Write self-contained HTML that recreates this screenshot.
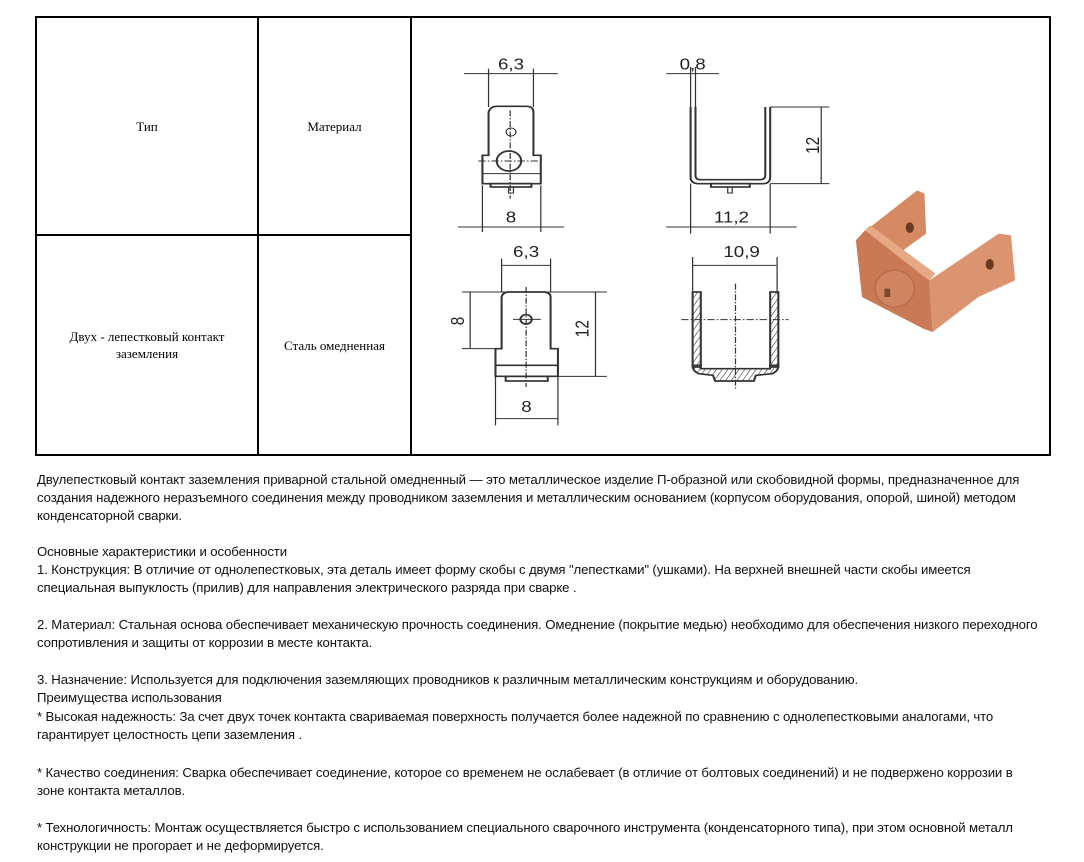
<!DOCTYPE html>
<html><head><meta charset="utf-8"><style>
body{margin:0;width:1084px;height:862px;background:#fff;position:relative;overflow:hidden}
.b{position:absolute;background:#000}
.c{position:absolute;font-family:"Liberation Serif",serif;font-size:13px;color:#000;text-align:center}
.t{position:absolute;left:37px;font-family:"Liberation Sans",sans-serif;font-size:13.2px;color:#111;white-space:nowrap;letter-spacing:-0.12px}
</style></head><body>
<div class="b" style="left:35px;top:16px;width:1016px;height:2px"></div>
<div class="b" style="left:35px;top:454px;width:1016px;height:2px"></div>
<div class="b" style="left:35px;top:16px;width:2px;height:440px"></div>
<div class="b" style="left:1049px;top:16px;width:2px;height:440px"></div>
<div class="b" style="left:257px;top:16px;width:2px;height:440px"></div>
<div class="b" style="left:410px;top:16px;width:2px;height:440px"></div>
<div class="b" style="left:35px;top:234px;width:376px;height:2px"></div>
<div class="c" style="left:37px;width:220px;top:119px">Тип</div>
<div class="c" style="left:259px;width:151px;top:119px">Материал</div>
<div class="c" style="left:37px;width:220px;top:328px;line-height:17px">Двух - лепестковый контакт<br>заземления</div>
<div class="c" style="left:259px;width:151px;top:338px">Сталь омедненная</div>
<svg style="position:absolute;left:411px;top:17px" width="640" height="440" viewBox="0 0 1568 1320" preserveAspectRatio="none">
<defs>
<pattern id="h" width="12" height="12" patternUnits="userSpaceOnUse" patternTransform="rotate(30)"><line x1="0" y1="0" x2="0" y2="12" stroke="#333" stroke-width="3"/></pattern></defs>
<g stroke="#333" stroke-width="3" fill="none">
<!-- top left -->
<line x1="130" y1="170" x2="360" y2="170"/><line x1="190" y1="155" x2="190" y2="270"/><line x1="300" y1="155" x2="300" y2="270"/>
<path d="M190,415 L190,285 Q195,268 210,268 L285,268 Q300,270 300,285 L300,415 L318,415 L318,500 L175,500 L175,415 Z" stroke-width="5"/>
<line x1="175" y1="470" x2="318" y2="470"/>
<rect x="195" y="500" width="100" height="10" stroke-width="5"/><rect x="239" y="510" width="12" height="18"/>
<circle cx="245" cy="345" r="12"/><circle cx="240" cy="432" r="30" stroke-width="5"/>
<line x1="165" y1="432" x2="325" y2="432" stroke-dasharray="18,5,4,5"/><line x1="243" y1="280" x2="243" y2="545" stroke-dasharray="18,5,4,5"/>
<line x1="115" y1="630" x2="375" y2="630"/><line x1="175" y1="505" x2="175" y2="645"/><line x1="318" y1="505" x2="318" y2="645"/>
<!-- top middle -->
<line x1="625" y1="170" x2="755" y2="170"/><line x1="685" y1="150" x2="685" y2="270"/><line x1="697" y1="150" x2="697" y2="270"/>
<path d="M685,270 L685,480 Q685,500 705,500 L862,500 Q880,500 880,480 L880,270 M697,270 L697,475 Q697,488 710,488 L855,488 Q868,488 868,475 L868,270" stroke-width="5"/>
<rect x="735" y="500" width="95" height="10" stroke-width="5"/><rect x="776" y="510" width="11" height="18"/>
<line x1="880" y1="270" x2="1025" y2="270"/><line x1="880" y1="500" x2="1025" y2="500"/><line x1="1005" y1="270" x2="1005" y2="500"/>
<line x1="685" y1="500" x2="685" y2="650"/><line x1="880" y1="500" x2="880" y2="650"/><line x1="625" y1="630" x2="945" y2="630"/>
<!-- bottom left -->
<line x1="222" y1="745" x2="342" y2="745"/><line x1="222" y1="725" x2="222" y2="825"/><line x1="342" y1="725" x2="342" y2="825"/>
<path d="M222,995 L222,840 Q225,825 240,825 L328,825 Q342,828 342,840 L342,995 L360,995 L360,1078 L207,1078 L207,995 Z" stroke-width="5"/>
<line x1="207" y1="1045" x2="360" y2="1045" stroke-width="5"/>
<rect x="232" y="1078" width="103" height="14" stroke-width="5"/>
<circle cx="282" cy="907" r="14" stroke-width="5"/><line x1="250" y1="907" x2="318" y2="907"/>
<line x1="282" y1="810" x2="282" y2="1110" stroke-dasharray="18,5,4,5"/>
<line x1="125" y1="825" x2="480" y2="825"/><line x1="125" y1="995" x2="207" y2="995"/><line x1="145" y1="825" x2="145" y2="995"/>
<line x1="360" y1="1078" x2="480" y2="1078"/><line x1="452" y1="825" x2="452" y2="1078"/>
<line x1="207" y1="1078" x2="207" y2="1225"/><line x1="360" y1="1078" x2="360" y2="1225"/><line x1="207" y1="1205" x2="360" y2="1205"/>
<!-- bottom middle -->
<line x1="690" y1="745" x2="895" y2="745"/><line x1="690" y1="720" x2="690" y2="830"/><line x1="897" y1="720" x2="897" y2="830"/>
<rect x="690" y="825" width="20" height="225" fill="url(#h)" stroke-width="5"/><rect x="880" y="825" width="20" height="225" fill="url(#h)" stroke-width="5"/>
<path d="M690,1045 Q690,1062 705,1070 L740,1075 L745,1092 L840,1092 L845,1075 L885,1070 Q900,1062 900,1045 L880,1045 L880,1055 L710,1055 L710,1045 Z" fill="url(#h)" stroke-width="5"/>
<line x1="662" y1="908" x2="925" y2="908" stroke-dasharray="18,5,4,5"/><line x1="795" y1="800" x2="795" y2="1115" stroke-dasharray="18,5,4,5"/>
</g>
<g fill="#222" font-family="Liberation Sans,sans-serif" font-size="46" text-anchor="middle">
<text x="245" y="158">6,3</text><text x="690" y="158">0,8</text><text x="245" y="617">8</text><text x="785" y="617">11,2</text>
<text x="282" y="720">6,3</text><text x="810" y="720">10,9</text><text x="283" y="1185">8</text>
<text transform="translate(1000,385) rotate(-90)">12</text><text transform="translate(130,912) rotate(-90)">8</text><text transform="translate(435,935) rotate(-90)">12</text>
</g>
<!-- photo -->
<g>
<polygon points="1115,640 1240,520 1258,530 1262,650 1200,705 1120,690" fill="#d68a63"/>
<polygon points="1090,670 1112,640 1270,790 1278,945 1255,935 1105,840" fill="#c97a55"/>
<polygon points="1270,790 1440,650 1470,655 1480,790 1390,840 1278,945" fill="#dc9470"/>
<polygon points="1112,640 1125,625 1285,770 1270,790" fill="#e6a885"/>
<ellipse cx="1222" cy="632" rx="10" ry="16" fill="#6a3a25"/>
<ellipse cx="1418" cy="742" rx="10" ry="16" fill="#6a3a25"/>
<ellipse cx="1185" cy="815" rx="48" ry="55" fill="#d08560" stroke="#b06a48" stroke-width="3"/>
<rect x="1160" y="815" width="14" height="25" fill="#7a4a30"/>
</g>
</svg>
<div class="t" style="top:472px">Двулепестковый контакт заземления приварной стальной омедненный — это металлическое изделие П-образной или скобовидной формы, предназначенное для</div>
<div class="t" style="top:490px">создания надежного неразъемного соединения между проводником заземления и металлическим основанием (корпусом оборудования, опорой, шиной) методом</div>
<div class="t" style="top:508px">конденсаторной сварки.</div>
<div class="t" style="top:544px">Основные характеристики и особенности</div>
<div class="t" style="top:562px">1. Конструкция: В отличие от однолепестковых, эта деталь имеет форму скобы с двумя "лепестками" (ушками). На верхней внешней части скобы имеется</div>
<div class="t" style="top:580px">специальная выпуклость (прилив) для направления электрического разряда при сварке .</div>
<div class="t" style="top:617px">2. Материал: Стальная основа обеспечивает механическую прочность соединения. Омеднение (покрытие медью) необходимо для обеспечения низкого переходного</div>
<div class="t" style="top:635px">сопротивления и защиты от коррозии в месте контакта.</div>
<div class="t" style="top:672px">3. Назначение: Используется для подключения заземляющих проводников к различным металлическим конструкциям и оборудованию.</div>
<div class="t" style="top:690px">Преимущества использования</div>
<div class="t" style="top:709px">* Высокая надежность: За счет двух точек контакта свариваемая поверхность получается более надежной по сравнению с однолепестковыми аналогами, что</div>
<div class="t" style="top:727px">гарантирует целостность цепи заземления .</div>
<div class="t" style="top:765px">* Качество соединения: Сварка обеспечивает соединение, которое со временем не ослабевает (в отличие от болтовых соединений) и не подвержено коррозии в</div>
<div class="t" style="top:783px">зоне контакта металлов.</div>
<div class="t" style="top:820px">* Технологичность: Монтаж осуществляется быстро с использованием специального сварочного инструмента (конденсаторного типа), при этом основной металл</div>
<div class="t" style="top:838px">конструкции не прогорает и не деформируется.</div>
</body></html>
